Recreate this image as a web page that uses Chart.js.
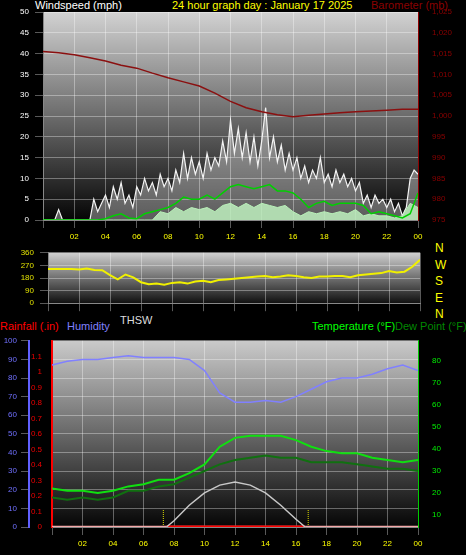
<!DOCTYPE html>
<html>
<head>
<meta charset="utf-8">
<script src="https://cdn.jsdelivr.net/npm/chart.js@4.4.0/dist/chart.umd.min.js"></script>
<style>
  body { margin: 0; background: #000; width: 466px; height: 555px; overflow: hidden; position: relative; font-family: 'Liberation Sans', Arial, sans-serif; }
  canvas { position: absolute; left: 0; }
  .lbl { position: absolute; font-size: 11px; white-space: nowrap; line-height: 12px; }
</style>
</head>
<body>
<div class="lbl" style="left:35px;top:-1px;color:#fff">Windspeed (mph)</div>
<div class="lbl" style="left:172px;top:-1px;color:#ff0">24 hour graph day : January 17 2025</div>
<div class="lbl" style="left:371px;top:-1px;color:#8b0000">Barometer (mb)</div>
<div class="lbl" style="left:435px;top:240px;color:#ff0;font-size:12px;line-height:16.5px">N<br>W<br>S<br>E<br>N</div>
<div class="lbl" style="left:120px;top:314px;color:#ddd">THSW</div>
<div class="lbl" style="left:0px;top:320px;color:#f00">Rainfall (.in)</div>
<div class="lbl" style="left:67px;top:320px;color:#8080ff">Humidity</div>
<div class="lbl" style="left:312px;top:320px;color:#0f0">Temperature (°F)</div>
<div class="lbl" style="left:395px;top:320px;color:#080">Dew Point (°F)</div>

<canvas id="windChart" style="top:0" width="466" height="242"></canvas>
<canvas id="dirChart" style="top:242px" width="466" height="72"></canvas>
<canvas id="tempChart" style="top:330px" width="466" height="225"></canvas>

<script>
// hours on x axis
const hours30 = [];
const hours15 = [];
const hours60 = [];
for (let i = 0; i <= 48; i++) hours30.push(i / 2);
for (let i = 0; i <= 96; i++) hours15.push(i / 4);
for (let i = 0; i <= 24; i++) hours60.push(i);

// windspeed gust, every 15 min (mph)
const windGust = [0,0,0,0,2.5,0,0,0,0,0,0,0,0,
  5,2,4,6,3,8,5,9,4,6,3,8,6,10,7,9,6,11,8,10,7,12,9,16,10,15,11,14,10,16,12,15,13,19,14,
  24,16,22,15,21,14,20,13,19,27,15,20,14,18,12,16,12,15,10,13,9,12,10,15,9,11,8,12,9,11,8,10,
  7,9,4,6,3,6,4,5,3,5,2,4,1,3,10,12,11];
// windspeed average, every 30 min (mph)
const windAvg = [0,0,0,0,0,0,0,
  0,0.3,1,1.5,0.5,0.3,1.5,2,2.5,3,4,5.5,5,5,6,5,6.5,8,8.5,8,7.5,8,8.5,7,7,6.5,5,3,4,4.5,3.5,4,4,4,3.5,1.5,2,1.5,1,0.5,1.5,6.5];
// wind low band, every 30 min (mph)
const windLow = [0,0,0,0,0,0,0,0,0,0,0,0,0,0,0,
  2,1.5,3,2,3,2.5,3,2,3.5,4,3,4,3,4,3.5,3,3.5,2,1,2,1.5,2,1.5,2,1.5,2.5,1,1.5,1,1,0.5,1,4,3];
// barometer, hourly (mb)
const baro = [1015.5,1015.2,1014.7,1014,1013.2,1012.2,1011.5,1010.3,1009.2,1008.2,1007.2,1005.5,1003.5,
  1002,1001,1000.3,999.8,1000.2,1000.5,1000.8,1001,1001.2,1001.4,1001.6,1001.6];
// wind direction, every 30 min (deg)
const windDir = [245,245,245,244,240,248,238,236,200,170,205,185,150,135,140,132,145,150,140,155,160,150,165,170,
  175,180,185,190,195,185,190,200,195,185,180,190,190,195,195,185,200,205,210,215,230,220,225,260,310];
// humidity (%), temperature, dew point (°F), hourly
const humidity = [87,89,90,90,91,92,91,91,91,90,84,72,67,67,68,67,70,74,78,80,80,82,85,87,84];
const temperature = [22,21,21,20,21,23,24,26,26,29,33,41,45,46,46,46,44,41,39,38,38,36,35,34,35];
const dewPoint = [18,17,18,17,18,21,21,23,24,27,30,33,35,36,37,36,36,34,34,34,33,32,31,31,30];
// THSW curve (drawn on rain scale)
const thswHours = [7.5,8,9,10,11,12,13,14,15,16,16.6];
const thsw = [0,0.04,0.14,0.22,0.27,0.29,0.27,0.22,0.14,0.05,0];
// rainfall (in)
const rainHours = [0,24];
const rain = [0,0];
const sunHours = [7.3,16.8];

const pts = (xs, ys) => ys.map((y, i) => ({ x: xs[i], y: y }));

Chart.defaults.font.family = "'Liberation Sans', Arial, sans-serif";
Chart.defaults.font.size = 8;
Chart.defaults.animation = false;

function bgPlugin(top, bottom) {
  return {
    id: 'bg',
    beforeDraw(chart) {
      const a = chart.chartArea, c = chart.ctx;
      const g = c.createLinearGradient(0, a.top, 0, a.bottom);
      g.addColorStop(0, top);
      g.addColorStop(1, bottom);
      c.save();
      c.fillStyle = g;
      c.fillRect(a.left, a.top, a.right - a.left, a.bottom - a.top);
      c.restore();
    }
  };
}

const fixW = w => (s => { s.width = w; });
const fixH = h => (s => { s.height = h; });
const gridStyle = { color: 'rgba(255,255,255,0.35)', borderDash: [1, 2] };

function xAxis(h, show) {
  return {
    type: 'linear', min: 0, max: 24,
    afterFit: fixH(h),
    grid: gridStyle,
    border: { color: '#888' },
    ticks: {
      display: show, stepSize: 2, color: '#ff0', maxRotation: 0, padding: 4,
      callback: v => v === 0 ? '' : String(v % 24).padStart(2, '0')
    }
  };
}

// Wind chart
new Chart(document.getElementById('windChart'), {
  type: 'line',
  data: {
    datasets: [
      { data: pts(hours30, windAvg), borderColor: '#00d000', borderWidth: 1.5, pointRadius: 0, yAxisID: 'y', order: 1 },
      { data: pts(hours30, windLow), borderColor: '#b8f0b8', backgroundColor: 'rgba(190,240,190,0.85)', fill: 'origin', borderWidth: 1, pointRadius: 0, yAxisID: 'y', order: 2 },
      { data: pts(hours15, windGust), borderColor: '#f4f4f4', backgroundColor: 'rgba(255,255,255,0.35)', fill: 'origin', borderWidth: 1.2, pointRadius: 0, yAxisID: 'y', order: 3 },
      { data: pts(hours60, baro), borderColor: '#8b1010', borderWidth: 1.5, pointRadius: 0, yAxisID: 'y2', order: 0 }
    ]
  },
  options: {
    responsive: false,
    layout: { padding: { top: 12 } },
    plugins: { legend: { display: false }, tooltip: { enabled: false } },
    scales: {
      x: xAxis(22, true),
      y: { min: 0, max: 50, afterFit: fixW(43), grid: gridStyle, border: { color: '#888' },
           ticks: { stepSize: 5, color: '#fff', padding: 6 } },
      y2: { position: 'right', min: 975, max: 1025, afterFit: fixW(48), grid: { display: false }, border: { color: '#8b0000' },
            ticks: { stepSize: 5, color: '#8b0000', padding: 6 } }
    }
  },
  plugins: [bgPlugin('#d2d2d2', '#050505')]
});

// Wind direction chart
new Chart(document.getElementById('dirChart'), {
  type: 'line',
  data: {
    datasets: [
      { data: pts(hours30, windDir), borderColor: '#f0f000', borderWidth: 2, pointRadius: 0 }
    ]
  },
  options: {
    responsive: false,
    layout: { padding: { top: 5 } },
    plugins: { legend: { display: false }, tooltip: { enabled: false } },
    scales: {
      x: xAxis(4, false),
      y: { min: 0, max: 360, afterFit: fixW(48), grid: gridStyle, border: { color: '#888' },
           ticks: { stepSize: 90, color: '#e0e000', padding: 6 } },
      y2: { position: 'right', min: 0, max: 360, afterFit: fixW(46), grid: { display: false }, border: { display: false },
            ticks: { display: false } }
    }
  },
  plugins: [bgPlugin('#d0d0d0', '#101010')]
});

// Temperature / humidity chart
new Chart(document.getElementById('tempChart'), {
  type: 'line',
  data: {
    datasets: [
      { data: pts(hours60, humidity), borderColor: '#8080ff', borderWidth: 1.5, pointRadius: 0, yAxisID: 'yh' },
      { data: pts(hours60, temperature), borderColor: '#10e010', borderWidth: 2, pointRadius: 0, yAxisID: 'yt' },
      { data: pts(hours60, dewPoint), borderColor: '#107010', borderWidth: 2, pointRadius: 0, yAxisID: 'yt' },
      { data: pts(thswHours, thsw), borderColor: '#c8c8c8', borderWidth: 1.5, pointRadius: 0, yAxisID: 'yr' },
      { data: pts(thswHours.slice(0, 1).concat(thswHours.slice(-1)), [0, 0]), borderColor: '#ff0000', borderWidth: 3, pointRadius: 0, yAxisID: 'yr' },
      { data: pts(rainHours, rain), borderColor: '#f4a8a8', borderWidth: 2.5, pointRadius: 0, yAxisID: 'yr' },
      { data: pts([sunHours[0], sunHours[0]], [0, 0.11]), borderColor: '#e0e000', borderDash: [1, 1], borderWidth: 1, pointRadius: 0, yAxisID: 'yr' },
      { data: pts([sunHours[1], sunHours[1]], [0, 0.11]), borderColor: '#e0e000', borderDash: [1, 1], borderWidth: 1, pointRadius: 0, yAxisID: 'yr' }
    ]
  },
  options: {
    responsive: false,
    layout: { padding: { top: 10 } },
    plugins: { legend: { display: false }, tooltip: { enabled: false } },
    scales: {
      x: xAxis(28, true),
      yr: { position: 'left', min: 0, max: 1.2, afterFit: fixW(23), grid: { display: false }, border: { color: '#f00', width: 2, dash: [2, 1] },
            ticks: { stepSize: 0.1, color: '#e00', padding: 2, callback: v => v > 1.15 ? '' : (Math.round(v * 10) / 10).toString() } },
      yh: { position: 'left', min: 0, max: 100, afterFit: fixW(29), grid: gridStyle, border: { color: '#6060ff', width: 2 },
            ticks: { stepSize: 10, color: '#7070ff', padding: 4 } },
      yt: { position: 'right', min: 4.6, max: 89, afterFit: fixW(48), grid: { display: false }, border: { color: '#0c0' },
            ticks: { color: '#0e0', padding: 6, callback: v => v },
            afterBuildTicks: s => { s.ticks = [10,20,30,40,50,60,70,80].map(v => ({ value: v })); } }
    }
  },
  plugins: [bgPlugin('#cacaca', '#050505')]
});
</script>
</body>
</html>
